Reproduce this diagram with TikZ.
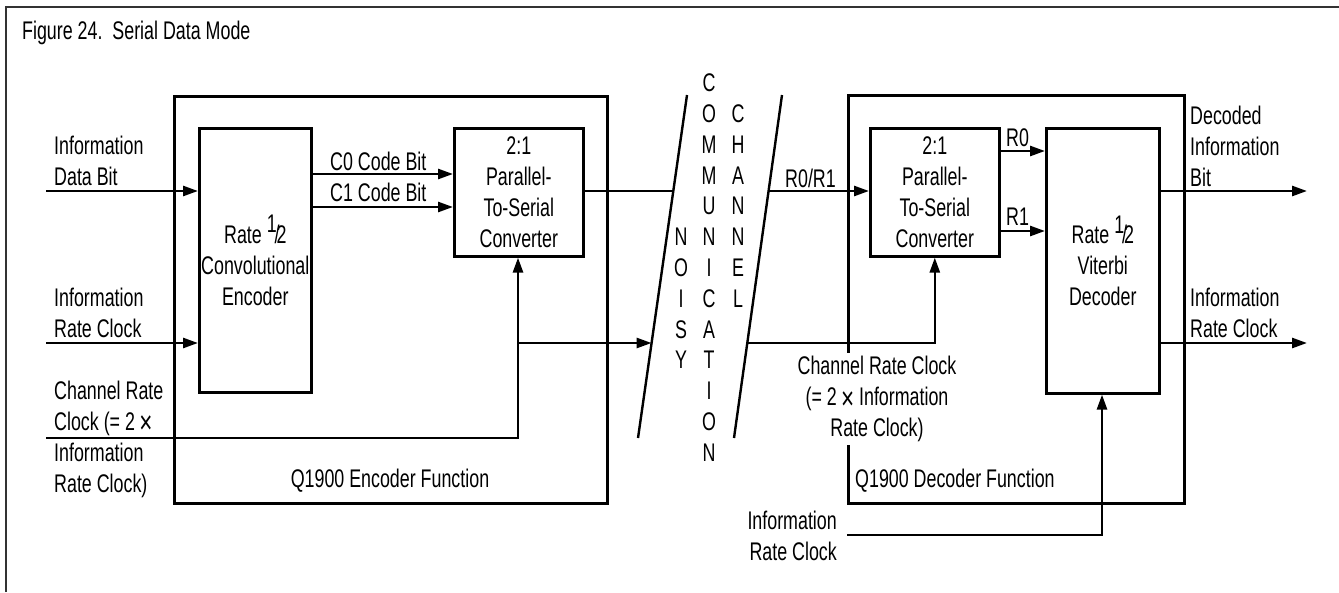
\documentclass[tikz,border=0pt]{standalone}
\usepackage{fontspec}
\setmainfont{Liberation Sans}[FakeStretch=0.7]
\usetikzlibrary{arrows.meta}
\newcommand{\half}{{\raisebox{.42em}{1}}\kern-.08em/\kern-.12em2}
\newcommand{\tms}{\raisebox{-.14em}{\fontsize{32}{31}\selectfont\texttimes}}
\begin{document}
\begin{tikzpicture}[x=1pt,y=-1pt,
  every node/.style={font=\fontsize{25.5}{31}\selectfont, inner sep=0pt},
  blk/.style={draw, line width=2.6pt, anchor=north west, align=center},
  wire/.style={line width=2.6pt},
  arr/.style={wire, -{Triangle[length=15pt,width=10pt]}},
  lbl/.style={align=left, anchor=west},
  chan/.style={line width=2.4pt},
]
\useasboundingbox (0,0) rectangle (1339,592);
% frame
\draw[line width=2pt, black!80] (6,592) -- (6,7) -- (1339,7);
\node[anchor=west] (title) at (22,33) {Figure 24.\ \ Serial Data Mode};

% encoder side
\node[blk, minimum width=433pt, minimum height=407pt] (enc) at (173,95) {};
\node[blk, minimum width=112pt, minimum height=264pt] (conv) at (198,127) {Rate \half\\Convolutional\\Encoder};
\node[blk, minimum width=129pt, minimum height=128pt] (pse) at (453,127) {2:1\\Parallel-\\To-Serial\\Converter};
\node (encf) at (390,481) {Q1900 Encoder Function};

% decoder side
\node[blk, minimum width=336pt, minimum height=408pt] (dec) at (847,94) {};
\node[blk, minimum width=129pt, minimum height=128pt] (psd) at (869,127) {2:1\\Parallel-\\To-Serial\\Converter};
\node[blk, minimum width=113pt, minimum height=265pt] (vit) at (1045,127) {Rate \half\\Viterbi\\Decoder};
\node[anchor=west] (decf) at (855,481) {Q1900 Decoder Function};
\node[align=center, fill=white, inner sep=3pt] (dclk) at (877,399) {Channel Rate Clock\\(= 2\,\tms\ Information\\Rate Clock)};

% left labels
\node[lbl] (l1) at (54,161) {Information\\Data Bit};
\node[lbl] (l2) at (54,313) {Information\\Rate Clock};
\node[lbl] (l3) at (54,439) {Channel Rate\\Clock (= 2\,\tms\\Information\\Rate Clock)};
\node[lbl] (lc0) at (330,161) {C0 Code Bit};
\node[lbl] (lc1) at (330,192) {C1 Code Bit};

% right labels
\node[lbl] (lr) at (785,178) {R0/R1};
\node[lbl] (lr0) at (1006,138) {R0};
\node[lbl] (lr1) at (1006,217) {R1};
\node[lbl] (ldb) at (1190,146) {Decoded\\Information\\Bit};
\node[lbl] (lirc) at (1190,313) {Information\\Rate Clock};
\node[align=right, anchor=east] (lbot) at (837,536) {Information\\Rate Clock};

% channel
\coordinate (s1t) at (687,95);
\coordinate (s1b) at (638,438);
\coordinate (s2t) at (782,95);
\coordinate (s2b) at (734,438);
\draw[chan] (s1t) -- (s1b);
\draw[chan] (s2t) -- (s2b);
\foreach \ch [count=\i from 0] in {C,O,M,M,U,N,I,C,A,T,I,O,N}
  \node (cm\i) at (709,83+30.8*\i) {\ch};
\foreach \ch [count=\i from 5] in {N,O,I,S,Y}
  \node (ns\i) at (681,83+30.8*\i) {\ch};
\foreach \ch [count=\i from 1] in {C,H,A,N,N,E,L}
  \node (ch\i) at (738,83+30.8*\i) {\ch};

% channel contact points
\coordinate (e1) at (673.3,191);
\coordinate (e2) at (651.6,343);
\coordinate (d1) at (768.3,191);
\coordinate (d2) at (746.6,343);

% encoder wires
\coordinate (in1) at (46,191);
\coordinate (in2) at (46,343);
\coordinate (in3) at (46,438);
\coordinate (j1) at (518,438);
\coordinate (c0) at (0,174);
\coordinate (c1) at (0,207);
\draw[arr] (in1) -- (in1 -| conv.west);
\draw[arr] (in2) -- (in2 -| conv.west);
\draw[arr] (conv.east |- c0) -- (pse.west |- c0);
\draw[arr] (conv.east |- c1) -- (pse.west |- c1);
\draw[arr] (in3) -- (j1) -- (j1 |- pse.south);
\draw[arr] (j1 |- e2) -- (e2);
\draw[wire] (pse.east |- e1) -- (e1);

% decoder wires
\coordinate (r0) at (0,151);
\coordinate (r1) at (0,231);
\coordinate (o1) at (1307,191);
\coordinate (o2) at (1307,343);
\coordinate (b1) at (847,535);
\coordinate (b2) at (1102,535);
\draw[arr] (d1) -- (psd.west |- d1);
\draw[arr] (d2) -- (psd.south |- d2) -- (psd.south);
\draw[arr] (psd.east |- r0) -- (vit.west |- r0);
\draw[arr] (psd.east |- r1) -- (vit.west |- r1);
\draw[arr] (vit.east |- o1) -- (o1);
\draw[arr] (vit.east |- o2) -- (o2);
\draw[arr] (b1) -- (b2) -- (b2 |- vit.south);
\end{tikzpicture}
\end{document}
